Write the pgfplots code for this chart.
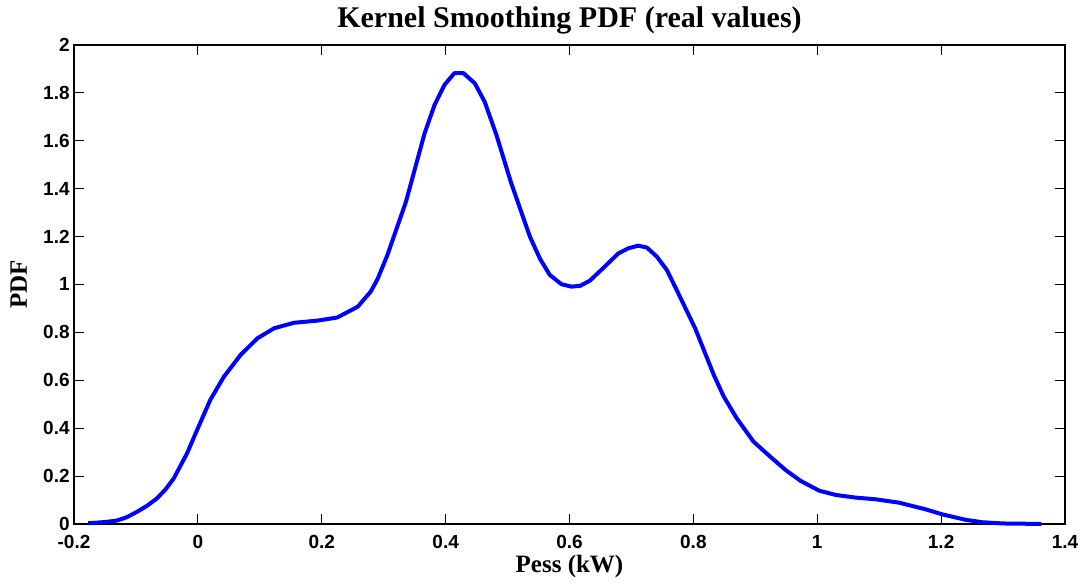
\documentclass[border=0pt]{standalone}
\usepackage{fontspec}
\setmainfont{Liberation Serif}
\setsansfont{Liberation Sans}
\usepackage{pgfplots}
\pgfplotsset{compat=1.18}
\begin{document}
\begin{tikzpicture}
\begin{axis}[
  scale only axis,
  width=495.5pt, height=239.5pt,
  xmin=-0.2, xmax=1.4, ymin=0, ymax=2,
  xtick={-0.2,0,0.2,0.4,0.6,0.8,1,1.2,1.4},
  ytick={0,0.2,0.4,0.6,0.8,1,1.2,1.4,1.6,1.8,2},
  tick align=inside,
  xtick pos=both, ytick pos=both,
  major tick length=5pt,
  axis line style={line width=0.6pt},
  every tick/.style={black, line width=0.5pt},
  /pgf/number format/assume math mode=true,
  ticklabel style={font=\fontsize{9.5}{11}\sffamily\bfseries},
  xticklabel style={inner sep=0pt, anchor=north, yshift=-5.5pt},
  yticklabel style={inner sep=0pt, anchor=east, xshift=-2pt},
  every axis title shift=0pt,
  title={Kernel Smoothing PDF (real values)},
  title style={font=\fontsize{15}{18}\selectfont\bfseries, at={(0.5,1.0355)}, anchor=base, inner sep=0pt},
  xlabel={Pess (kW)},
  xlabel style={font=\fontsize{12.5}{15}\selectfont\bfseries, at={(0.5,-0.1023)}, anchor=base, inner sep=0pt},
  ylabel={PDF},
  ylabel style={font=\fontsize{12.5}{15}\selectfont\bfseries, at={(-0.0477,0.5)}, anchor=base, inner sep=0pt},
  clip=false,
]
\path (rel axis cs:-0.0747,-0.1294) rectangle (rel axis cs:1.0212,1.0939);
\addplot[color={rgb,255:red,0;green,0;blue,255}, line width=2pt, line join=round] coordinates {
(-0.177,0.003)
(-0.150,0.008)
(-0.131,0.014)
(-0.115,0.028)
(-0.098,0.051)
(-0.082,0.076)
(-0.066,0.107)
(-0.052,0.145)
(-0.039,0.190)
(-0.0175,0.295)
(0.000,0.400)
(0.020,0.518)
(0.042,0.615)
(0.069,0.706)
(0.096,0.775)
(0.123,0.817)
(0.155,0.840)
(0.193,0.849)
(0.225,0.862)
(0.258,0.907)
(0.279,0.970)
(0.290,1.022)
(0.306,1.123)
(0.336,1.346)
(0.366,1.631)
(0.382,1.749)
(0.398,1.833)
(0.414,1.882)
(0.429,1.882)
(0.447,1.840)
(0.463,1.763)
(0.482,1.624)
(0.506,1.422)
(0.536,1.200)
(0.552,1.109)
(0.568,1.040)
(0.587,1.001)
(0.603,0.991)
(0.617,0.994)
(0.633,1.016)
(0.655,1.070)
(0.679,1.130)
(0.695,1.151)
(0.711,1.162)
(0.725,1.154)
(0.741,1.116)
(0.757,1.061)
(0.773,0.977)
(0.795,0.859)
(0.803,0.816)
(0.833,0.622)
(0.849,0.532)
(0.870,0.441)
(0.897,0.344)
(0.924,0.281)
(0.949,0.225)
(0.973,0.180)
(1.003,0.139)
(1.030,0.121)
(1.062,0.110)
(1.094,0.103)
(1.132,0.089)
(1.175,0.061)
(1.202,0.040)
(1.240,0.017)
(1.267,0.007)
(1.300,0.002)
(1.362,0.000)
};
\end{axis}
\end{tikzpicture}
\end{document}
